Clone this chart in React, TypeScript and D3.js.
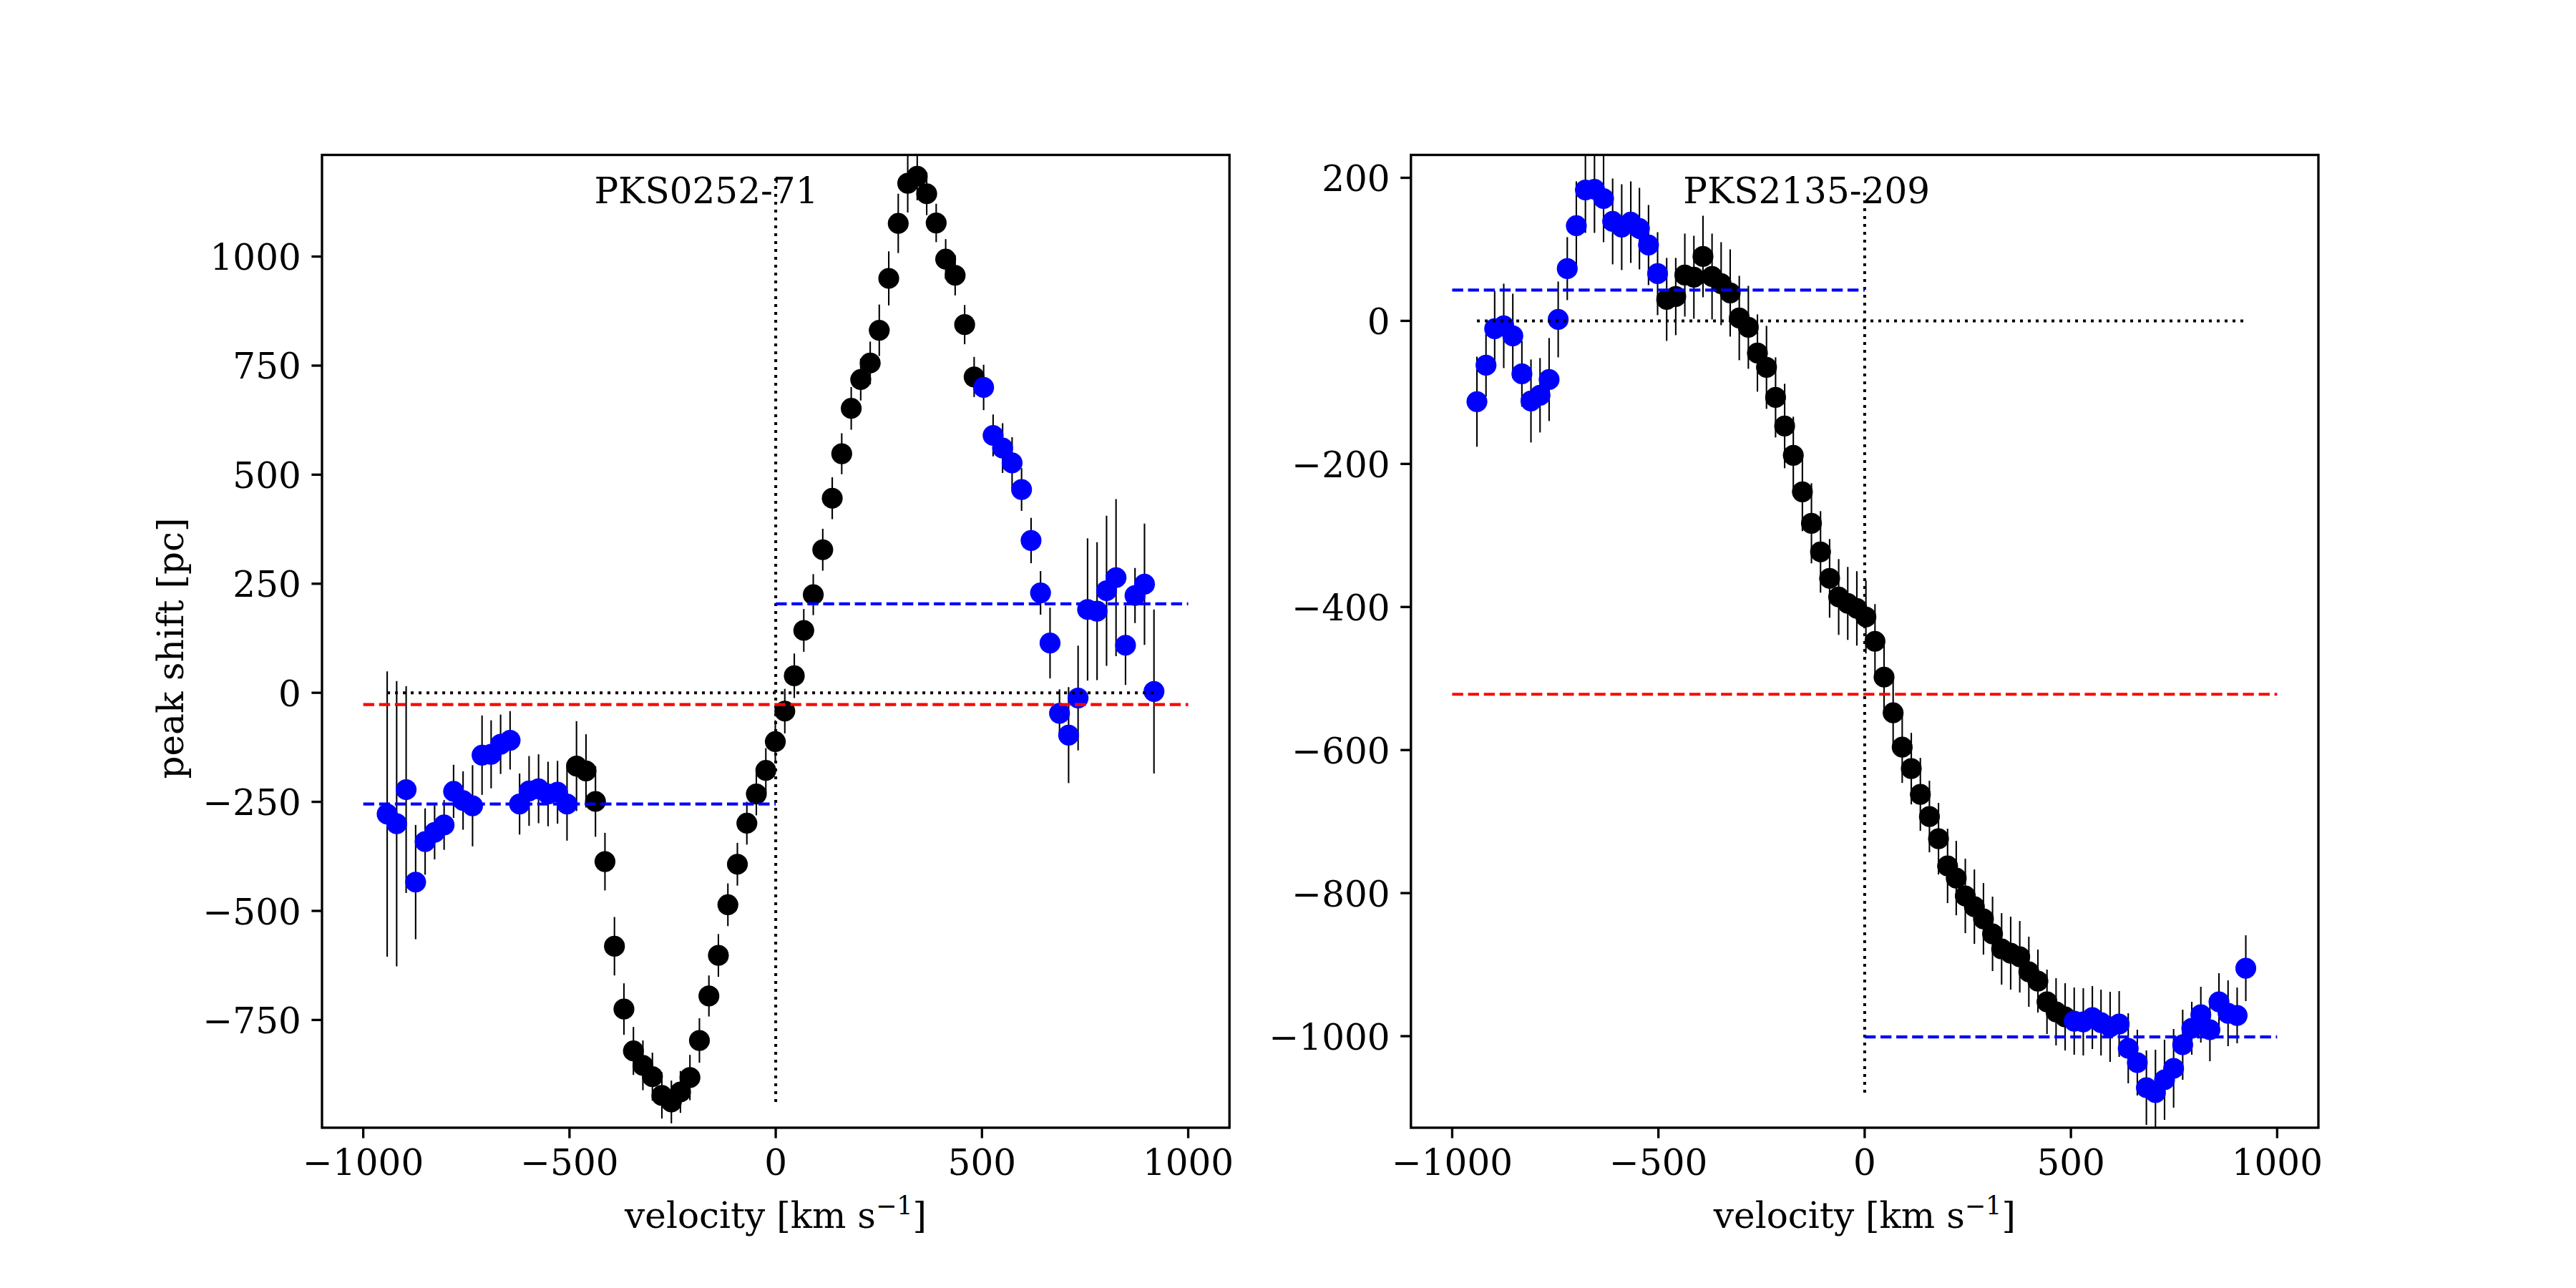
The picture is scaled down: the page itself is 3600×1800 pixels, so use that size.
import { useEffect } from 'react';
import * as d3 from 'd3';

// ---- PKS0252-71 ----
const vel0252 = [
  -942, -919, -896, -873, -850, -827, -804, -781, -758, -735, -712, -690, -667, -644, -621, -598, -575, -552, -529, -506,
  -483, -460, -437, -414, -391, -368, -345, -322, -299, -276, -253, -231, -208, -185, -162, -139, -116, -93, -70, -47, -24, -1,
  22, 45, 68, 91, 114, 137, 160, 183, 206, 229, 251, 274, 297, 320, 343, 366, 389, 412, 435, 458, 481,
  504, 527, 550, 573, 596, 619, 642, 665, 688, 710, 733, 756, 779, 802, 825, 848, 871, 894, 917,
];
const shift0252 = [
  -278, -300, -222, -434, -341, -320, -303, -226, -247, -259, -143, -141, -118, -109, -255, -225, -220, -232, -228, -255,
  -168, -179, -249, -387, -581, -725, -821, -854, -880, -923, -938, -915, -882, -797, -695, -602, -486, -393, -299, -232, -178, -112,
  -42, 39, 143, 225, 328, 446, 548, 652, 718, 756, 831, 950, 1076, 1168, 1184, 1144, 1077, 994, 957, 844, 724,
  700, 590, 561, 527, 466, 349, 229, 114, -47, -97, -12, 191, 187, 234, 264, 109, 223, 249, 3,
];
const err0252 = [
  327, 327, 237, 131, 76, 62, 57, 61, 67, 93, 91, 78, 68, 67, 70, 80, 79, 74, 72, 84,
  103, 84, 81, 66, 67, 59, 55, 57, 55, 53, 49, 48, 52, 51, 47, 49, 49, 49, 49, 49, 51, 49,
  51, 51, 49, 47, 48, 48, 47, 49, 48, 49, 59, 62, 68, 67, 55, 49, 44, 46, 46, 45, 46,
  52, 48, 57, 59, 49, 52, 50, 81, 55, 110, 120, 163, 158, 172, 180, 91, 63, 139, 188,
];
const core0252 = [-483, 481];
const mean0252 = -27;
const wings0252 = [-255, 204];
const yDomain0252 = [-997, 1233];
const yTicks0252 = [-750, -500, -250, 0, 250, 500, 750, 1000];

// ---- PKS2135-209 ----
const vel2135 = [
  -940, -918, -897, -875, -853, -831, -809, -787, -765, -743, -721, -699, -677, -655, -633, -611, -589, -567, -546, -524, -502,
  -480, -458, -436, -414, -392, -370, -348, -326, -304, -282, -260, -238, -216, -194, -173, -151, -129, -107, -85, -63, -41, -19,
  3, 25, 47, 69, 91, 113, 135, 157, 179, 201, 222, 244, 266, 288, 310, 332, 354, 376, 398, 420, 442, 464, 486,
  508, 530, 552, 573, 595, 617, 639, 661, 683, 705, 727, 749, 771, 793, 815, 837, 859, 881, 903, 924,
];
const shift2135 = [
  -113, -62, -11, -7, -21, -74, -112, -104, -82, 2, 73, 133, 183, 184, 171, 139, 131, 138, 129, 106, 66,
  30, 34, 64, 61, 90, 62, 52, 39, 4, -9, -45, -65, -107, -147, -188, -239, -283, -323, -360, -386, -395, -402,
  -414, -448, -498, -548, -596, -626, -662, -693, -724, -762, -779, -804, -819, -836, -857, -878, -884, -889, -910, -923, -952, -966, -973,
  -979, -980, -974, -981, -987, -983, -1017, -1037, -1072, -1079, -1061, -1045, -1012, -989, -970, -991, -952, -968, -971, -905,
];
const err2135 = [
  63, 44, 53, 59, 59, 46, 58, 52, 58, 53, 44, 62, 60, 61, 61, 60, 60, 57, 57, 56, 58,
  58, 54, 58, 58, 57, 60, 58, 61, 59, 58, 54, 58, 56, 59, 54, 55, 56, 57, 55, 53, 51, 52,
  51, 52, 52, 51, 50, 50, 51, 50, 50, 52, 52, 52, 52, 50, 52, 50, 51, 50, 49, 44, 45, 47, 47,
  47, 47, 44, 46, 49, 46, 49, 46, 52, 60, 56, 55, 49, 37, 39, 44, 40, 46, 39, 46,
];
const core2135 = [-480, 486];
const mean2135 = -522;
const wings2135 = [43, -1001];
const yDomain2135 = [-1128, 232];
const yTicks2135 = [-1000, -800, -600, -400, -200, 0, 200];

const xDomain = [-1100, 1100];
const xTicks = [-1000, -500, 0, 500, 1000];
const levelEdges = [-1000, 0, 1000];

// figure geometry (12x6 in at 300 dpi)
const W = 3600;
const H = 1800;
const AX_TOP = 216.5;
const AX_BOTTOM = 1576;
const AX_W = 1268.2;
const LEFTS = [450, 1971.8];
const FONT = '"DejaVu Serif", serif';
const FS = 50;
const TICK = 14.6;
const PAD = 14.6;

interface PanelProps {
  id: string;
  name: string;
  left: number;
  vel: number[];
  shift: number[];
  err: number[];
  core: number[];
  mean: number;
  wings: number[];
  yDomain: number[];
  yTicks: number[];
  yLabel?: string;
}

function Panel({ id, name, left, vel, shift, err, core, mean, wings, yDomain, yTicks, yLabel }: PanelProps) {
  const x = d3.scaleLinear().domain(xDomain).range([left, left + AX_W]);
  const y = d3.scaleLinear().domain(yDomain).range([AX_BOTTOM, AX_TOP]);
  const [vMin, vMax] = d3.extent(vel) as [number, number];
  const [sMin, sMax] = d3.extent(shift) as [number, number];
  const fmt = d3.format('d');
  const clip = `clip-${id}`;
  const hline = (x0: number, x1: number, v: number) =>
    d3.line<number[]>()([[x(x0), y(v)], [x(x1), y(v)]]) || '';

  return (
    <g>
      <defs>
        <clipPath id={clip}>
          <rect x={left} y={AX_TOP} width={AX_W} height={AX_BOTTOM - AX_TOP} />
        </clipPath>
      </defs>
      <g clipPath={`url(#${clip})`}>
        {vel.map((v, i) => (
          <line key={`e${i}`} x1={x(v)} x2={x(v)} y1={y(shift[i] - err[i])} y2={y(shift[i] + err[i])}
            stroke="#000" strokeWidth={2.1} />
        ))}
        {vel.map((v, i) => (
          <circle key={`p${i}`} cx={x(v)} cy={y(shift[i])} r={14.6}
            fill={v >= core[0] && v <= core[1] ? '#000000' : '#0000ff'} />
        ))}
        {/* zero lines */}
        <path d={hline(vMin, vMax, 0)} stroke="#000" strokeWidth={4} strokeDasharray="4 7" fill="none" />
        <path d={d3.line<number[]>()([[x(0), y(sMin)], [x(0), y(sMax)]]) || ''}
          stroke="#000" strokeWidth={4} strokeDasharray="4 7" fill="none" />
        {/* mean levels */}
        <path d={hline(levelEdges[0], levelEdges[2], mean)} stroke="#ff0000" strokeWidth={4.17}
          strokeDasharray="15.4 6.7" fill="none" />
        <path d={hline(levelEdges[0], levelEdges[1], wings[0])} stroke="#0000ff" strokeWidth={4.17}
          strokeDasharray="15.4 6.7" fill="none" />
        <path d={hline(levelEdges[1], levelEdges[2], wings[1])} stroke="#0000ff" strokeWidth={4.17}
          strokeDasharray="15.4 6.7" fill="none" />
      </g>
      <rect x={left} y={AX_TOP} width={AX_W} height={AX_BOTTOM - AX_TOP} fill="none" stroke="#000" strokeWidth={3.33} />
      {xTicks.map((t) => (
        <g key={`x${t}`}>
          <line x1={x(t)} x2={x(t)} y1={AX_BOTTOM} y2={AX_BOTTOM + TICK} stroke="#000" strokeWidth={3.33} />
          <text x={x(t)} y={AX_BOTTOM + TICK + PAD + 37} textAnchor="middle" fontFamily={FONT} fontSize={FS}>
            {fmt(t)}
          </text>
        </g>
      ))}
      {yTicks.map((t) => (
        <g key={`y${t}`}>
          <line x1={left - TICK} x2={left} y1={y(t)} y2={y(t)} stroke="#000" strokeWidth={3.33} />
          <text x={left - TICK - PAD} y={y(t) + 18.5} textAnchor="end" fontFamily={FONT} fontSize={FS}>
            {fmt(t)}
          </text>
        </g>
      ))}
      <text x={left + 0.3 * AX_W} y={AX_BOTTOM - 0.95 * (AX_BOTTOM - AX_TOP)} fontFamily={FONT} fontSize={FS}>
        {name}
      </text>
      <text x={left + AX_W / 2} y={1716} textAnchor="middle" fontFamily={FONT} fontSize={FS}>
        velocity [km s<tspan dy={-19} fontSize={35}>−1</tspan><tspan dy={19}>]</tspan>
      </text>
      {yLabel && (
        <text transform={`translate(256, 906) rotate(-90)`} textAnchor="middle"
          fontFamily={FONT} fontSize={FS}>
          {yLabel}
        </text>
      )}
    </g>
  );
}

export default function App() {
  useEffect(() => {
    document.body.style.margin = '0';
  }, []);
  return (
    <svg width={W} height={H} viewBox={`0 0 ${W} ${H}`} style={{ display: 'block', background: '#fff' }}>
      <rect width={W} height={H} fill="#fff" />
      <Panel id="a" name="PKS0252-71" left={LEFTS[0]} vel={vel0252} shift={shift0252} err={err0252}
        core={core0252} mean={mean0252} wings={wings0252} yDomain={yDomain0252} yTicks={yTicks0252}
        yLabel="peak shift [pc]" />
      <Panel id="b" name="PKS2135-209" left={LEFTS[1]} vel={vel2135} shift={shift2135} err={err2135}
        core={core2135} mean={mean2135} wings={wings2135} yDomain={yDomain2135} yTicks={yTicks2135} />
    </svg>
  );
}
